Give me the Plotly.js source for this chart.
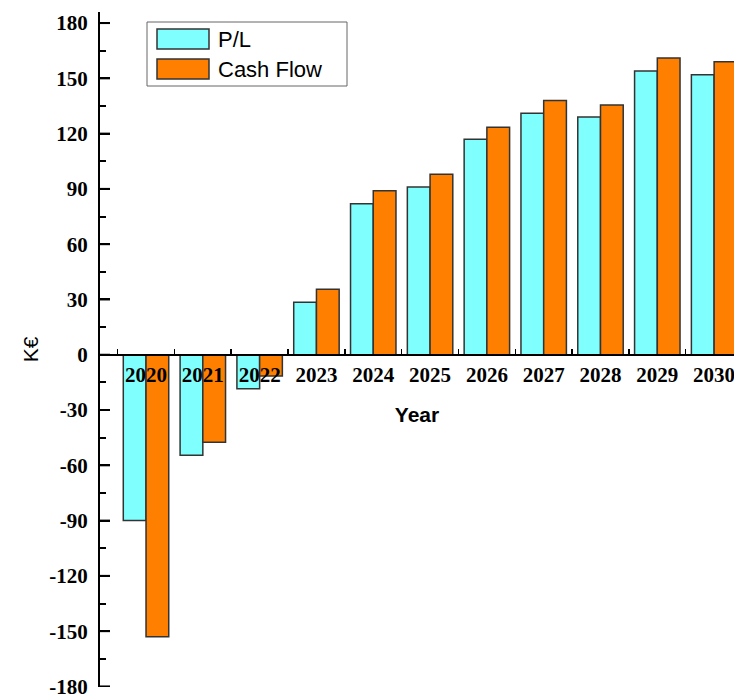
<!DOCTYPE html>
<html>
<head>
<meta charset="utf-8">
<script src="https://cdn.plot.ly/plotly-3.0.1.min.js"></script>
<style>
html,body{margin:0;padding:0;background:#fff;}
#chart{width:734px;height:698px;}
</style>
</head>
<body>
<div id="chart"></div>
<script>
const years = ["2020","2021","2022","2023","2024","2025","2026","2027","2028","2029","2030"];
const profitLoss = [-90, -54.5, -18.5, 28.5, 82, 91, 117, 131, 129, 154, 152];
const cashFlow = [-153, -47.5, -11.5, 35.5, 89, 98, 123.5, 138, 135.5, 161, 159];
const seriesNames = ["P/L", "Cash Flow"];
const seriesColors = ["#80FFFF", "#FF8000"];
const yTicks = [-180, -150, -120, -90, -60, -30, 0, 30, 60, 90, 120, 150, 180];
const yTickLabels = ["-180", "-150", "-120", "-90", "-60", "-30", "0", "30", "60", "90", "120", "150", "180"];
const yMinorStep = 15;

const W = 734, H = 698;
const M = {l: 100, r: 0, t: 12, b: 11};
const yRange = [-180.3, 186];

const serifBold = {family: "Liberation Serif, Times New Roman, serif", size: 21, weight: "bold", color: "#000"};
const sans = "Liberation Sans, Arial, sans-serif";

const traces = seriesNames.map((name, i) => ({
  type: "bar", name: name, x: years, y: i === 0 ? profitLoss : cashFlow,
  marker: {color: seriesColors[i], line: {color: "#333", width: 1.5}},
  showlegend: false
}));

const pw = W - M.l - M.r, ph = H - M.t - M.b;
const px = v => (v - M.l) / pw;
const py = v => (H - M.b - v) / ph;

// long tick marks on the y axis, positioned through the y axis scale
const shapes = yTicks.map(v => ({type: "line", xref: "paper", yref: "y", x0: 0, x1: 10 / pw, y0: v, y1: v,
  line: {color: "#000", width: 2}, layer: "above"}));

// custom legend (box + big swatches)
shapes.push({type: "rect", xref: "paper", yref: "paper", x0: px(147), x1: px(347), y0: py(86), y1: py(22),
  line: {color: "#666", width: 1}, fillcolor: "#fff", layer: "above"});
const annotations = [];
seriesNames.forEach((name, i) => {
  const top = 29 + i * 30;
  shapes.push({type: "rect", xref: "paper", yref: "paper", x0: px(157), x1: px(209), y0: py(top + 20), y1: py(top),
    line: {color: "#333", width: 1.5}, fillcolor: seriesColors[i], layer: "above"});
  annotations.push({xref: "paper", yref: "paper", x: px(216), y: py(top + 10), xanchor: "left", yanchor: "middle",
    text: name, showarrow: false, font: {family: sans, size: 22, color: "#000"}});
});

const layout = {
  width: W, height: H,
  margin: {l: M.l, r: M.r, t: M.t, b: M.b, pad: 0},
  paper_bgcolor: "#fff", plot_bgcolor: "#fff",
  barmode: "group", bargap: 0.2, bargroupgap: 0,
  showlegend: false,
  shapes: shapes, annotations: annotations,
  xaxis: {type: "category", range: [-0.81, 10.35], anchor: "free",
    position: (0 - yRange[0]) / (yRange[1] - yRange[0]),
    showline: true, linecolor: "#000", linewidth: 2, showgrid: false, zeroline: false,
    ticks: "inside", tickson: "boundaries", ticklen: 5, tickwidth: 1.5, tickcolor: "#000",
    tickfont: serifBold, ticklabelstandoff: 1,
    title: {text: "Year", font: {family: sans, size: 21, weight: "bold", color: "#000"}, standoff: 20}},
  yaxis: {range: yRange, tickmode: "array", tickvals: yTicks, ticktext: yTickLabels,
    showline: true, linecolor: "#000", linewidth: 2, showgrid: false, zeroline: false,
    ticks: "inside", ticklen: 10, tickwidth: 2, tickcolor: "#000",
    minor: {tickmode: "linear", tick0: 0, dtick: yMinorStep, ticks: "inside", ticklen: 6, tickwidth: 2, tickcolor: "#000", showgrid: false},
    tickfont: serifBold, ticklabelstandoff: 6, ticklabeloverflow: "allow",
    title: {text: "K€", font: {family: sans, size: 21, color: "#000"}, standoff: 5}}
};

Plotly.newPlot("chart", traces, layout, {displayModeBar: false, staticPlot: true});
</script>
</body>
</html>
